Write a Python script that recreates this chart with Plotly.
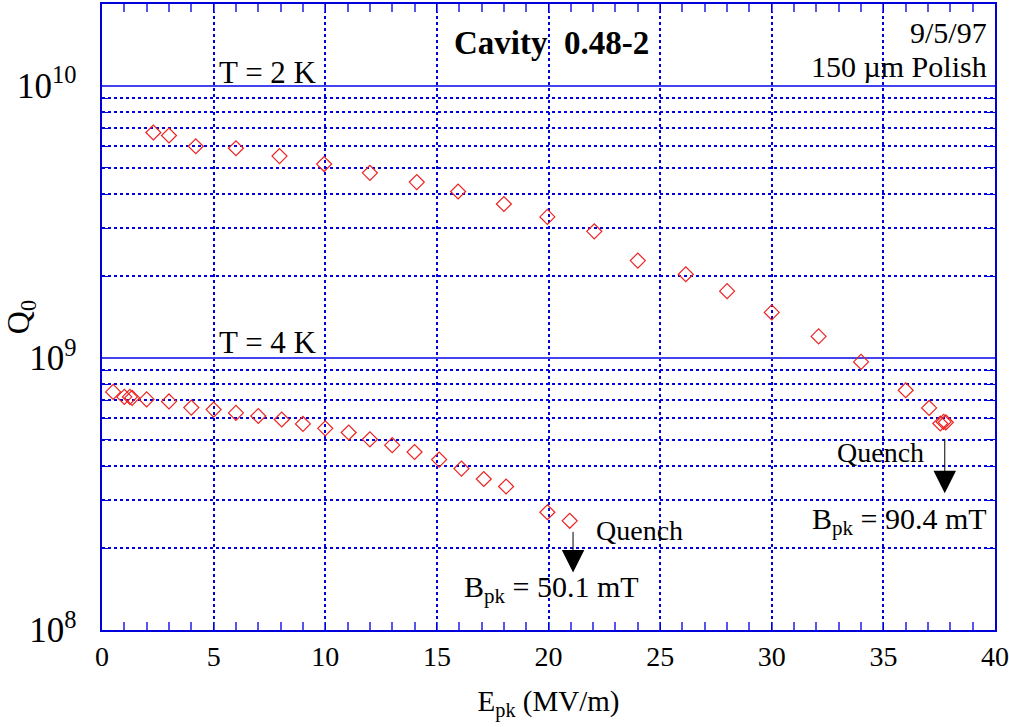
import plotly.graph_objects as go

# 2 K data
e_2k = [2.3, 3.0, 4.2, 6.0, 7.95, 9.95, 12.0, 14.1, 15.95, 18.0, 19.95, 22.05, 24.0, 26.15, 28.0, 30.0, 32.1, 34.0, 36.0, 37.05, 37.55, 37.7, 37.8]
q_2k = [6.74e9, 6.57e9, 6.0e9, 5.9e9, 5.52e9, 5.16e9, 4.79e9, 4.43e9, 4.09e9, 3.68e9, 3.30e9, 2.92e9, 2.28e9, 2.03e9, 1.76e9, 1.47e9, 1.20e9, 9.67e8, 7.61e8, 6.55e8, 5.74e8, 5.82e8, 5.80e8]

# 4 K data
e_4k = [0.5, 1.0, 1.25, 1.35, 2.0, 3.0, 4.0, 5.0, 6.0, 7.0, 8.05, 9.0, 10.0, 11.05, 12.0, 13.0, 14.0, 15.1, 16.1, 17.1, 18.1, 19.95, 20.95]
q_4k = [7.5e8, 7.19e8, 7.19e8, 7.13e8, 7.04e8, 6.92e8, 6.57e8, 6.46e8, 6.28e8, 6.12e8, 5.94e8, 5.72e8, 5.51e8, 5.32e8, 5.02e8, 4.78e8, 4.51e8, 4.23e8, 3.92e8, 3.59e8, 3.37e8, 2.71e8, 2.52e8]

x_ticks = [0, 5, 10, 15, 20, 25, 30, 35, 40]

FONT = "Liberation Serif"
BLUE = "#0000dd"

fig = go.Figure()
marker = dict(symbol="diamond-open", size=11.5, color="#ee2222", line=dict(width=1.2, color="#ee2222"))
fig.add_trace(go.Scatter(x=e_2k, y=q_2k, mode="markers", marker=marker, showlegend=False))
fig.add_trace(go.Scatter(x=e_4k, y=q_4k, mode="markers", marker=marker, showlegend=False))

fig.update_layout(
    width=1009, height=727,
    margin=dict(l=102, r=14, t=4, b=97),
    paper_bgcolor="white", plot_bgcolor="white",
    font=dict(family=FONT, size=28, color="black"),
    showlegend=False,
)

fig.update_xaxes(
    range=[0, 40], tickvals=x_ticks, ticktext=[str(v) for v in x_ticks],
    automargin=False,
    showline=True, linecolor=BLUE, linewidth=2, mirror="ticks",
    ticks="inside", ticklen=8, tickcolor=BLUE, tickwidth=1,
    showgrid=True, gridcolor=BLUE, griddash="dot", gridwidth=1.5,
    minor=dict(dtick=1, ticks="inside", ticklen=8, tickcolor="#5555ee", tickwidth=1.5, showgrid=False),
    zeroline=False,
    tickfont=dict(family=FONT, size=28),
    title=dict(text="E<sub>pk</sub> (MV/m)", font=dict(family=FONT, size=29), standoff=20),
)

fig.update_yaxes(
    type="log", range=[8, 10.301], dtick=1, exponentformat="power",
    automargin=False, ticklabelstandoff=18,
    showline=True, linecolor=BLUE, linewidth=2, mirror="ticks",
    ticks="inside", ticklen=16, tickcolor="#4444ee", tickwidth=2,
    showgrid=True, gridcolor="#4444ee", gridwidth=1.5,
    minor=dict(dtick="D1", ticks="inside", ticklen=8, tickcolor=BLUE, tickwidth=1,
               showgrid=True, gridcolor=BLUE, griddash="dot", gridwidth=1.5),
    zeroline=False,
    tickfont=dict(family=FONT, size=28),
    title=dict(text="Q<sub>0</sub>", font=dict(family=FONT, size=32), standoff=10),
)

ann = []
def txt(x, y, text, xanchor="center", bold=False, size=30):
    t = f"<b>{text}</b>" if bold else text
    ann.append(dict(x=x, y=y, xref="x", yref="y", text=t, showarrow=False,
                    xanchor=xanchor, yanchor="middle", font=dict(family=FONT, size=size, color="black")))

txt(7.43, 10.048, "T = 2 K", size=31)
txt(7.43, 9.058, "T = 4 K", size=31)
txt(20.15, 10.159, "Cavity&nbsp;&nbsp;0.48-2", bold=True, size=33)
txt(39.75, 10.196, "9/5/97", xanchor="right", size=30)
txt(39.75, 10.070, "150 µm Polish", xanchor="right", size=30)
txt(24.09, 8.366, "Quench", size=28)
txt(20.15, 8.15, "B<sub>pk</sub> = 50.1 mT", size=30)
txt(34.89, 8.653, "Quench", size=28)
txt(35.7, 8.40, "B<sub>pk</sub> = 90.4 mT", size=30)

# arrows
ann.append(dict(x=21.1, y=8.2116, xref="x", yref="y", ax=0, ay=-42, axref="pixel", ayref="pixel",
                showarrow=True, arrowhead=2, arrowsize=4.5, arrowwidth=1, arrowcolor="black", text=""))
ann.append(dict(x=37.75, y=8.5024, xref="x", yref="y", ax=0, ay=-56, axref="pixel", ayref="pixel",
                showarrow=True, arrowhead=2, arrowsize=4.5, arrowwidth=1, arrowcolor="black", text=""))

fig.update_layout(annotations=ann)
fig.write_html("out.html")
